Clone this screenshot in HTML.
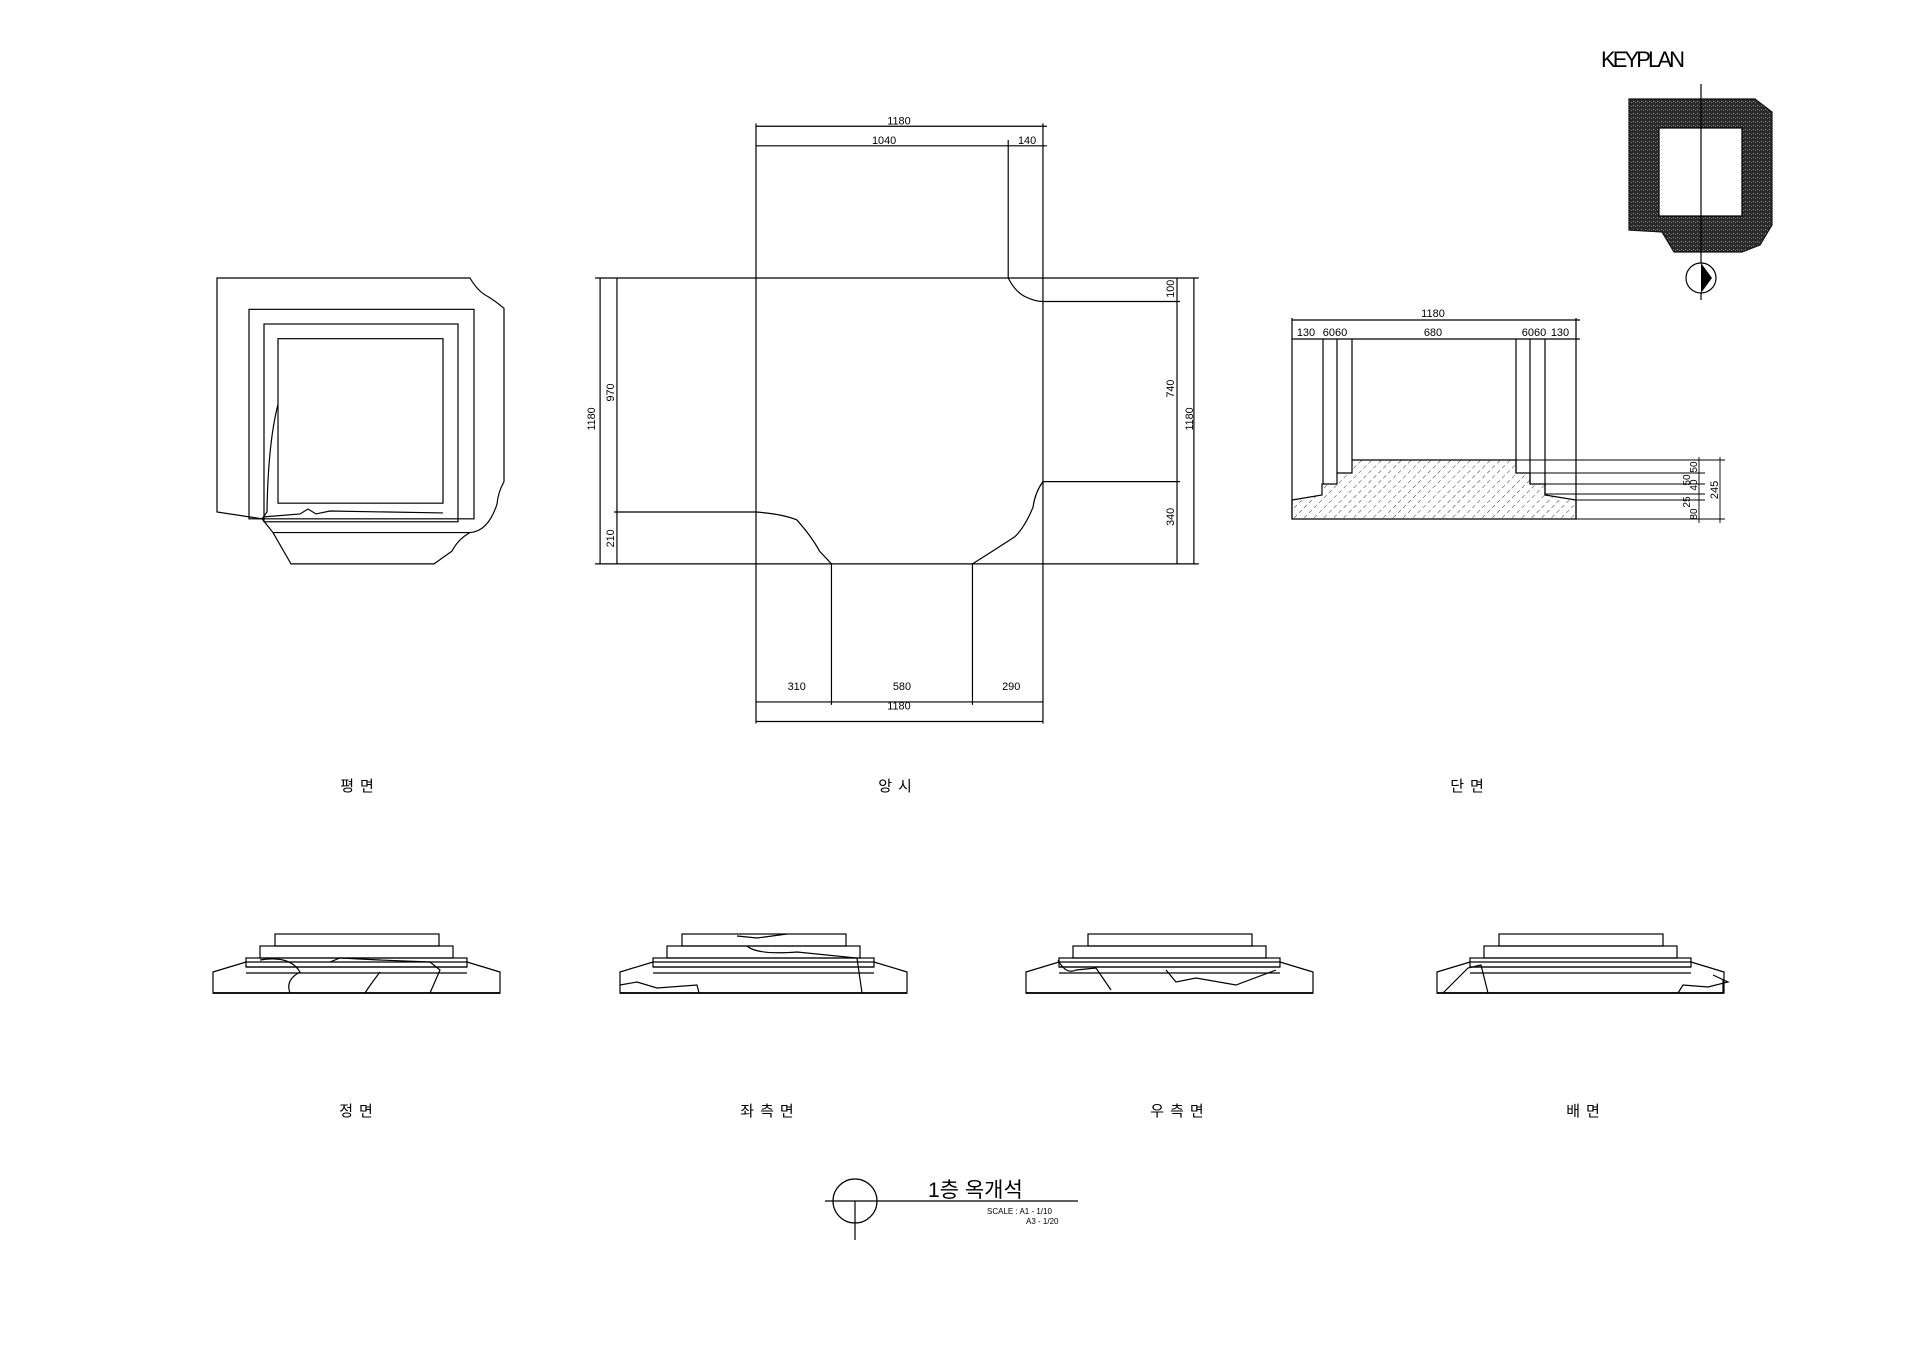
<!DOCTYPE html>
<html><head><meta charset="utf-8"><style>
html,body{margin:0;padding:0;background:#fff;}
svg{display:block;}
text{font-family:"Liberation Sans","Noto Sans CJK KR",sans-serif;fill:#000;}
</style></head><body>
<svg width="1920" height="1357" viewBox="0 0 1920 1357" xmlns="http://www.w3.org/2000/svg">
<defs>
<pattern id="h" width="7" height="7" patternUnits="userSpaceOnUse" patternTransform="rotate(45)">
<line x1="0" y1="0" x2="0" y2="4" stroke="#000" stroke-width="0.8"/></pattern>
<pattern id="k" width="4" height="4" patternUnits="userSpaceOnUse">
<rect width="4" height="4" fill="#2a2a2a"/><rect x="1" y="1" width="1" height="1" fill="#999"/><rect x="3" y="2" width="1" height="1" fill="#777"/></pattern>
</defs>
<g fill="none" stroke="#000" stroke-width="1.2">
<!-- PLAN -->
<g transform="matrix(1,0,0,0.979,0,2.9)">
<path d="M217,281 L470,281 Q478,295 488,300 Q496,305 504,312 L504,489 Q498,500 497,512 Q488,540 470,541 Q458,548 452,560 L434,573 L291,573 L273,541 L262,527 L217,520 Z"/>
<rect x="249" y="313" width="225" height="214"/>
<rect x="264" y="328" width="194" height="202"/>
<rect x="278" y="343" width="165" height="168"/>
<line x1="273" y1="541" x2="470" y2="541"/>
<path d="M278,410 Q268,450 267,520 L262,527"/>
<path d="M264,525 L300,522 L308,517 L316,522 L330,519 L443,521"/>
</g>
<!-- UPWARD VIEW -->
<g transform="matrix(0.993,0,0,0.979,2.3,2.9)">
<line x1="597" y1="281" x2="1205" y2="281"/>
<line x1="597" y1="573" x2="1205" y2="573"/>
<line x1="602" y1="281" x2="602" y2="573"/>
<line x1="619" y1="281" x2="619" y2="573"/>
<line x1="1183" y1="281" x2="1183" y2="573"/>
<line x1="1200" y1="281" x2="1200" y2="573"/>
<line x1="759" y1="123" x2="759" y2="736"/>
<line x1="1048" y1="123" x2="1048" y2="736"/>
<line x1="759" y1="126" x2="1052" y2="126"/>
<line x1="759" y1="146" x2="1052" y2="146"/>
<path d="M1013,140 L1013,281 Q1020,295 1030,300 Q1040,305 1048,305 L1186,305"/>
<path d="M1186,489 L1048,489 Q1040,500 1038,515 Q1030,535 1020,545 Q1005,555 977,573 L977,717"/>
<path d="M616,520 L759,520 Q785,522 800,528 Q815,545 823,560 L835,573 L835,717"/>
<line x1="759" y1="714" x2="1048" y2="714"/>
<line x1="759" y1="734" x2="1048" y2="734"/>
</g>
<!-- SECTION -->
<line x1="1292" y1="320" x2="1580" y2="320"/>
<line x1="1292" y1="339" x2="1580" y2="339"/>
<line x1="1292" y1="318" x2="1292" y2="519"/>
<line x1="1576" y1="318" x2="1576" y2="519"/>
<line x1="1323" y1="339" x2="1323" y2="484"/>
<line x1="1337" y1="339" x2="1337" y2="473"/>
<line x1="1352" y1="339" x2="1352" y2="460"/>
<line x1="1516" y1="339" x2="1516" y2="473"/>
<line x1="1530" y1="339" x2="1530" y2="484"/>
<line x1="1545" y1="339" x2="1545" y2="495"/>
<path d="M1292,519 L1292,500 L1322,495 L1322,484 L1337,484 L1337,473 L1352,473 L1352,460 L1516,460 L1516,473 L1530,473 L1530,484 L1545,484 L1545,495 L1576,500 L1576,519 Z" fill="url(#h)"/>
<g stroke-width="0.9">
<line x1="1516" y1="460" x2="1725" y2="460"/>
<line x1="1516" y1="473" x2="1705" y2="473"/>
<line x1="1530" y1="484" x2="1705" y2="484"/>
<line x1="1545" y1="494" x2="1705" y2="494"/>
<line x1="1576" y1="500" x2="1705" y2="500"/>
<line x1="1576" y1="519" x2="1725" y2="519"/>
<line x1="1699" y1="457" x2="1699" y2="523"/>
<line x1="1720" y1="457" x2="1720" y2="523"/>
</g>
<!-- KEYPLAN -->
<path d="M1629,99 L1755,99 L1772,112 L1772,225 L1760,245 L1742,252 L1674,252 L1662,232 L1629,230 Z" fill="url(#k)" stroke="#111"/>
<rect x="1659" y="128" width="83" height="88" fill="#fff" stroke="#000"/>
<line x1="1701" y1="84" x2="1701" y2="300"/>
<circle cx="1701" cy="278" r="15" fill="#fff"/>
<!-- ELEVATIONS -->
<g id="e">
<path d="M213,993 L213,972 L246,962 L467,962 L500,972 L500,993 Z"/>
<line x1="213" y1="993" x2="500" y2="993" stroke-width="1.8"/>
<line x1="246" y1="967" x2="467" y2="967"/>
<line x1="246" y1="973" x2="467" y2="973"/>
<rect x="246" y="958" width="221" height="9"/>
<rect x="260" y="946" width="193" height="12"/>
<rect x="275" y="934" width="164" height="12"/>
</g>
<use href="#e" x="407"/>
<use href="#e" x="813"/>
<use href="#e" x="1224"/>
<path d="M260,960 Q290,955 300,972 Q285,980 290,993 M330,962 L340,958 L380,960 L430,962 L440,970 L430,993 M380,972 Q370,985 365,993"/>
<path d="M620,985 L637,982 L657,988 L697,985 L699,993 M737,936 L757,938 L787,934 M747,946 Q757,955 797,952 L857,958 L862,993"/>
<path d="M1058,960 Q1066,975 1076,970 L1096,968 L1111,990 M1166,970 L1176,982 L1196,978 L1236,985 L1276,970"/>
<path d="M1443,993 L1468,968 L1481,965 L1488,993 M1678,993 L1683,985 L1708,987 L1728,982 L1713,975 M1723,993 L1723,980"/>
<!-- TITLE -->
<ellipse cx="855" cy="1201" rx="22" ry="22"/>
<line x1="825" y1="1201" x2="1078" y2="1201"/>
<line x1="855" y1="1201" x2="855" y2="1240"/>
</g>
<path d="M1701,263 L1712,278 L1701,293 Z" fill="#000"/>
<!-- TEXT -->
<g font-size="11" text-anchor="middle">
<g transform="matrix(0.993,0,0,0.979,2.3,2.9)">
<text x="903" y="124">1180</text>
<text x="888" y="144">1040</text>
<text x="1032" y="144">140</text>
<text x="800" y="702">310</text>
<text x="906" y="702">580</text>
<text x="1016" y="702">290</text>
<text x="903" y="722">1180</text>
<text transform="translate(597,425) rotate(-90)">1180</text>
<text transform="translate(616,398) rotate(-90)">970</text>
<text transform="translate(616,547) rotate(-90)">210</text>
<text transform="translate(1180,292) rotate(-90)">100</text>
<text transform="translate(1180,394) rotate(-90)">740</text>
<text transform="translate(1199,425) rotate(-90)">1180</text>
<text transform="translate(1180,525) rotate(-90)">340</text>
</g>
<text x="1433" y="317">1180</text>
<text x="1306" y="336">130</text>
<text x="1335" y="336">6060</text>
<text x="1433" y="336">680</text>
<text x="1534" y="336">6060</text>
<text x="1560" y="336">130</text>
<text transform="translate(1697,467) rotate(-90)" font-size="10">50</text>
<text transform="translate(1690,480) rotate(-90)" font-size="10">50</text>
<text transform="translate(1697,485) rotate(-90)" font-size="10">40</text>
<text transform="translate(1690,502) rotate(-90)" font-size="10">25</text>
<text transform="translate(1697,514) rotate(-90)" font-size="10">80</text>
<text transform="translate(1718,490) rotate(-90)">245</text>
</g>
<text x="1601" y="67" font-size="22" textLength="84">KEYPLAN</text>
<g font-size="15" text-anchor="middle" letter-spacing="6">
<text x="360" y="791">평면</text>
<text x="898" y="791">앙시</text>
<text x="1470" y="791">단면</text>
<text x="359" y="1116">정면</text>
<text x="770" y="1116">좌측면</text>
<text x="1180" y="1116">우측면</text>
<text x="1586" y="1116">배면</text>
</g>
<text x="928" y="1197" font-size="21">1층 옥개석</text>
<text x="987" y="1214" font-size="8">SCALE : A1 - 1/10</text>
<text x="1026" y="1224" font-size="8">A3 - 1/20</text>
</svg>
</body></html>
